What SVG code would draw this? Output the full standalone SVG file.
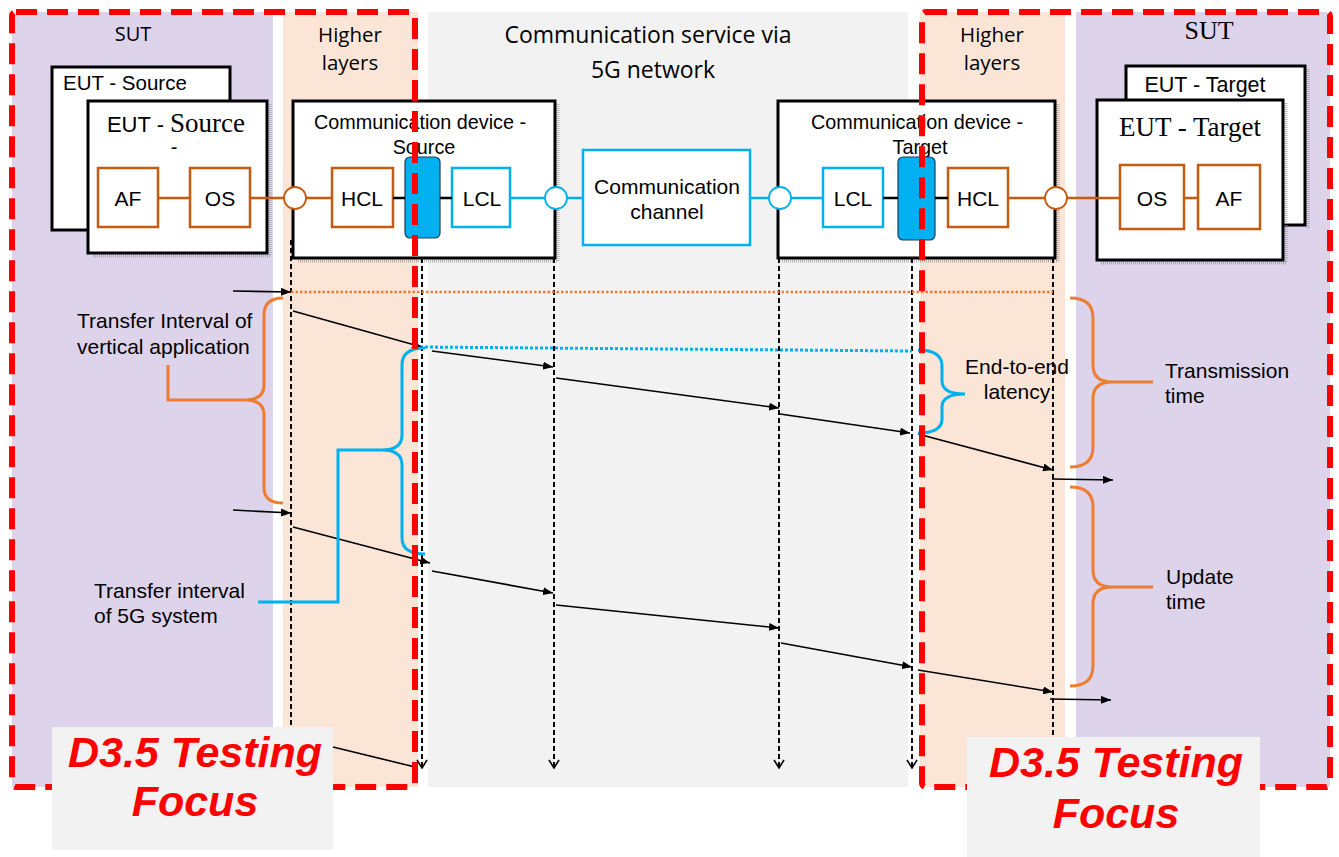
<svg xmlns="http://www.w3.org/2000/svg" width="1339" height="857" viewBox="0 0 1339 857">
<defs>
<marker id="ah" viewBox="0 0 10 8" refX="10" refY="4" markerWidth="10" markerHeight="8" markerUnits="userSpaceOnUse" orient="auto"><path d="M0,0 L10,4 L0,8 Z" fill="#000"/></marker>
<marker id="av" viewBox="0 0 12 10" refX="6" refY="9" markerWidth="12" markerHeight="10" markerUnits="userSpaceOnUse" orient="0"><path d="M1,1 L6,9 L11,1" fill="none" stroke="#000" stroke-width="1.6"/></marker>
</defs>
<style>
.t{font-family:"Liberation Sans",Arial,sans-serif;fill:#000}
.c{font-family:"Open Sans","Noto Sans",sans-serif;fill:#000}
.s{font-family:"Liberation Serif","Times New Roman",serif;fill:#000}
.box{fill:#fff;stroke:#000;stroke-width:3}
.ob{fill:#fff;stroke:#C55A11;stroke-width:2.5}
.bb{fill:#fff;stroke:#00B0F0;stroke-width:2.5}
.ol{stroke:#C55A11;stroke-width:2.5;fill:none}
.bl{stroke:#00B0F0;stroke-width:2.5;fill:none}
.kl{stroke:#000;stroke-width:2.5;fill:none}
.oc{fill:#fff;stroke:#C55A11;stroke-width:1.8}
.bc{fill:#fff;stroke:#00B0F0;stroke-width:1.8}
.blk{fill:#00B0F0;stroke:#1F3A5A;stroke-width:1.2}
.life{stroke:#000;stroke-width:2;stroke-dasharray:5 3;fill:none}
.msg{stroke:#000;stroke-width:1.6;fill:none;marker-end:url(#ah)}
.brO{stroke:#ED7D31;stroke-width:3;fill:none}
.brB{stroke:#00B0F0;stroke-width:3;fill:none}
.red{fill:none;stroke:#FF0000;stroke-width:6;stroke-dasharray:21 10}
.shd{fill:none;stroke:#888;stroke-width:3;stroke-dasharray:1 1;opacity:0.6}
.lb{font-size:21px}
.bx{font-size:21px}
.foc{font-family:"Liberation Sans",Arial,sans-serif;font-weight:bold;font-style:italic;font-size:43px;fill:#FF0000}
</style>

<g id="backgrounds">
<rect x="12" y="12" width="261" height="775" fill="#DDD3EA"/>
<rect x="283" y="12" width="135" height="775" fill="#FBE5D6"/>
<rect x="428" y="12" width="480" height="775" fill="#F2F2F2"/>
<rect x="920" y="12" width="145" height="775" fill="#FBE5D6"/>
<rect x="1076" y="12" width="254" height="775" fill="#DDD3EA"/>
</g>

<g id="headers">
<text class="c" x="133" y="41" font-size="20" text-anchor="middle">SUT</text>
<text class="c" x="350" y="42" font-size="20.5" text-anchor="middle">Higher</text>
<text class="c" x="350" y="70" font-size="20.5" text-anchor="middle">layers</text>
<text class="c" x="648" y="43" font-size="23" text-anchor="middle">Communication service via</text>
<text class="c" x="653" y="78" font-size="23" text-anchor="middle">5G network</text>
<text class="c" x="992" y="42" font-size="20.5" text-anchor="middle">Higher</text>
<text class="c" x="992" y="70" font-size="20.5" text-anchor="middle">layers</text>
<text class="s" x="1209" y="39" font-size="26" text-anchor="middle">SUT</text>
</g>

<g id="eut-source">
<rect class="box" x="52" y="67" width="178" height="163"/>
<text class="t" x="63" y="90" font-size="20.5">EUT - Source</text>
<path class="shd" d="M270,104 L270,256 L92,256"/>
<rect class="box" x="88" y="101" width="179" height="152"/>
<text x="176" y="132" text-anchor="middle"><tspan class="t" font-size="22">EUT - </tspan><tspan class="s" font-size="27">Source</tspan></text>
<text class="t" x="174" y="154" font-size="20" text-anchor="middle">-</text>
<rect class="ob" x="98" y="168" width="60" height="59"/>
<text class="t bx" x="128" y="206" text-anchor="middle">AF</text>
<rect class="ob" x="190" y="168" width="60" height="59"/>
<text class="t bx" x="220" y="206" text-anchor="middle">OS</text>
<line class="ol" x1="158" y1="198" x2="190" y2="198"/>
</g>

<g id="device-source">
<path class="shd" d="M558,104 L558,261 L297,261"/>
<rect class="box" x="293" y="101" width="262" height="157"/>
<text class="t" x="420" y="129" font-size="19.8" text-anchor="middle">Communication device -</text>
<text class="t" x="424" y="154" font-size="19.8" text-anchor="middle">Source</text>
<rect class="ob" x="332" y="168" width="61" height="59"/>
<text class="t bx" x="362" y="206" text-anchor="middle">HCL</text>
<rect class="blk" x="405" y="157" width="35" height="81" rx="5"/>
<rect class="bb" x="452" y="168" width="58" height="59"/>
<text class="t bx" x="482" y="206" text-anchor="middle">LCL</text>
<line class="kl" x1="393" y1="198" x2="405" y2="198"/>
<line class="kl" x1="440" y1="198" x2="452" y2="198"/>
</g>

<g id="channel">
<rect class="bb" x="583" y="150" width="167" height="95"/>
<text class="t bx" x="667" y="194" text-anchor="middle">Communication</text>
<text class="t bx" x="667" y="219" text-anchor="middle">channel</text>
</g>

<g id="device-target">
<path class="shd" d="M1058,104 L1058,261 L782,261"/>
<rect class="box" x="778" y="101" width="277" height="157"/>
<text class="t" x="917" y="129" font-size="19.8" text-anchor="middle">Communication device -</text>
<text class="t" x="920" y="154" font-size="19.8" text-anchor="middle">Target</text>
<rect class="bb" x="823" y="168" width="60" height="59"/>
<text class="t bx" x="853" y="206" text-anchor="middle">LCL</text>
<rect class="blk" x="898" y="157" width="37" height="83" rx="5"/>
<rect class="ob" x="948" y="168" width="60" height="59"/>
<text class="t bx" x="978" y="206" text-anchor="middle">HCL</text>
<line class="kl" x1="883" y1="198" x2="898" y2="198"/>
<line class="kl" x1="935" y1="198" x2="948" y2="198"/>
</g>

<g id="eut-target">
<path class="shd" d="M1308,69 L1308,228"/>
<rect class="box" x="1126" y="66" width="179" height="159"/>
<text class="t" x="1205" y="92" font-size="21.5" text-anchor="middle">EUT - Target</text>
<path class="shd" d="M1286,103 L1286,263 L1101,263"/>
<rect class="box" x="1097" y="100" width="186" height="160"/>
<text class="s" x="1190" y="136" font-size="27" text-anchor="middle">EUT - Target</text>
<rect class="ob" x="1120" y="165" width="64" height="64"/>
<text class="t bx" x="1152" y="206" text-anchor="middle">OS</text>
<rect class="ob" x="1198" y="165" width="62" height="64"/>
<text class="t bx" x="1229" y="206" text-anchor="middle">AF</text>
<line class="ol" x1="1184" y1="198" x2="1198" y2="198"/>
</g>

<g id="connectors">
<line class="ol" x1="250" y1="198" x2="284" y2="198"/>
<line class="ol" x1="306" y1="198" x2="332" y2="198"/>
<circle class="oc" cx="295" cy="198" r="11"/>
<line class="bl" x1="510" y1="198" x2="545" y2="198"/>
<line class="bl" x1="567" y1="198" x2="583" y2="198"/>
<circle class="bc" cx="556" cy="198" r="11"/>
<line class="bl" x1="750" y1="198" x2="769" y2="198"/>
<line class="bl" x1="791" y1="198" x2="823" y2="198"/>
<circle class="bc" cx="780" cy="198" r="11"/>
<line class="ol" x1="1008" y1="198" x2="1045" y2="198"/>
<line class="ol" x1="1067" y1="198" x2="1120" y2="198"/>
<circle class="oc" cx="1056" cy="198" r="11"/>

<line class="life" x1="291" y1="240" x2="291" y2="760"/>
<line class="life" x1="422" y1="258" x2="422" y2="768" marker-end="url(#av)"/>
<line class="life" x1="554" y1="258" x2="554" y2="768" marker-end="url(#av)"/>
<line class="life" x1="779" y1="258" x2="779" y2="768" marker-end="url(#av)"/>
<line class="life" x1="912" y1="258" x2="912" y2="768" marker-end="url(#av)"/>
<line class="life" x1="1053" y1="258" x2="1053" y2="740"/>

<line x1="291" y1="292" x2="1053" y2="292" stroke="#ED7D31" stroke-width="2.5" stroke-dasharray="2.5 2"/>
<line x1="420" y1="347" x2="912" y2="351" stroke="#00B0F0" stroke-width="3" stroke-dasharray="3 2"/>

<line class="msg" x1="233" y1="291" x2="291" y2="292"/>
<line class="msg" x1="293" y1="311" x2="422" y2="347"/>
<line class="msg" x1="432" y1="351" x2="553" y2="367"/>
<line class="msg" x1="556" y1="378" x2="779" y2="408"/>
<line class="msg" x1="780" y1="414" x2="910" y2="433"/>
<line class="msg" x1="918" y1="434" x2="1053" y2="470"/>
<line class="msg" x1="1052" y1="479" x2="1113" y2="480"/>

<line class="msg" x1="233" y1="510" x2="291" y2="513"/>
<line class="msg" x1="293" y1="527" x2="430" y2="563"/>
<line class="msg" x1="432" y1="571" x2="553" y2="593"/>
<line class="msg" x1="556" y1="605" x2="779" y2="628"/>
<line class="msg" x1="781" y1="643" x2="912" y2="667"/>
<line class="msg" x1="918" y1="670" x2="1053" y2="692"/>
<line class="msg" x1="1050" y1="699" x2="1111" y2="700"/>

<line x1="333" y1="747" x2="415" y2="767" stroke="#000" stroke-width="1.6"/>
</g>

<g id="braces">
<path class="brO" d="M283,298 Q264,298 264,315 L264,385 Q264,400 245,400 Q264,400 264,415 L264,488 Q264,503 283,503"/>
<path class="brO" d="M245,400 L168,400 L168,365"/>
<path class="brB" d="M425,348 Q402,348 402,365 L402,435 Q402,450 382,450 Q402,450 402,465 L402,538 Q402,554 425,554"/>
<path class="brB" d="M382,450 L338,450 L338,602 L258,602"/>
<path class="brB" d="M918,350 Q942,350 942,366 L942,381 Q942,394 965,394 Q942,394 942,407 L942,419 Q942,433 918,433"/>
<path class="brO" d="M1070,298 Q1093,298 1093,318 L1093,365 Q1093,382 1112,382 Q1093,382 1093,399 L1093,447 Q1093,467 1070,467"/>
<path class="brO" d="M1112,382 L1153,382"/>
<path class="brO" d="M1070,487 Q1093,487 1093,507 L1093,570 Q1093,587 1112,587 Q1093,587 1093,604 L1093,666 Q1093,686 1070,686"/>
<path class="brO" d="M1112,587 L1153,587"/>
</g>

<g id="labels">
<text class="t lb" x="77" y="328">Transfer Interval of</text>
<text class="t lb" x="77" y="354">vertical application</text>
<text class="t lb" x="94" y="598">Transfer interval</text>
<text class="t lb" x="94" y="623">of 5G system</text>
<text class="t lb" x="1017" y="374" text-anchor="middle">End-to-end</text>
<text class="t lb" x="1017" y="399" text-anchor="middle">latency</text>
<text class="t lb" x="1165" y="378" >Transmission</text>
<text class="t lb" x="1165" y="403">time</text>
<text class="t lb" x="1166" y="584">Update</text>
<text class="t lb" x="1166" y="609">time</text>
</g>

<g id="focus-frames">
<rect class="red" x="12" y="12" width="403" height="775" rx="4"/>
<rect class="red" x="922" y="12" width="408" height="775" rx="4"/>
</g>

<g id="focus-left">
<rect x="52" y="727" width="281" height="123" fill="#F2F2F2"/>
<text class="foc" x="195" y="767" text-anchor="middle">D3.5 Testing</text>
<text class="foc" x="195" y="816" text-anchor="middle">Focus</text>
</g>
<g id="focus-right">
<rect x="967" y="737" width="293" height="120" fill="#F2F2F2"/>
<text class="foc" x="1116" y="777" text-anchor="middle">D3.5 Testing</text>
<text class="foc" x="1116" y="828" text-anchor="middle">Focus</text>
</g>
</svg>
